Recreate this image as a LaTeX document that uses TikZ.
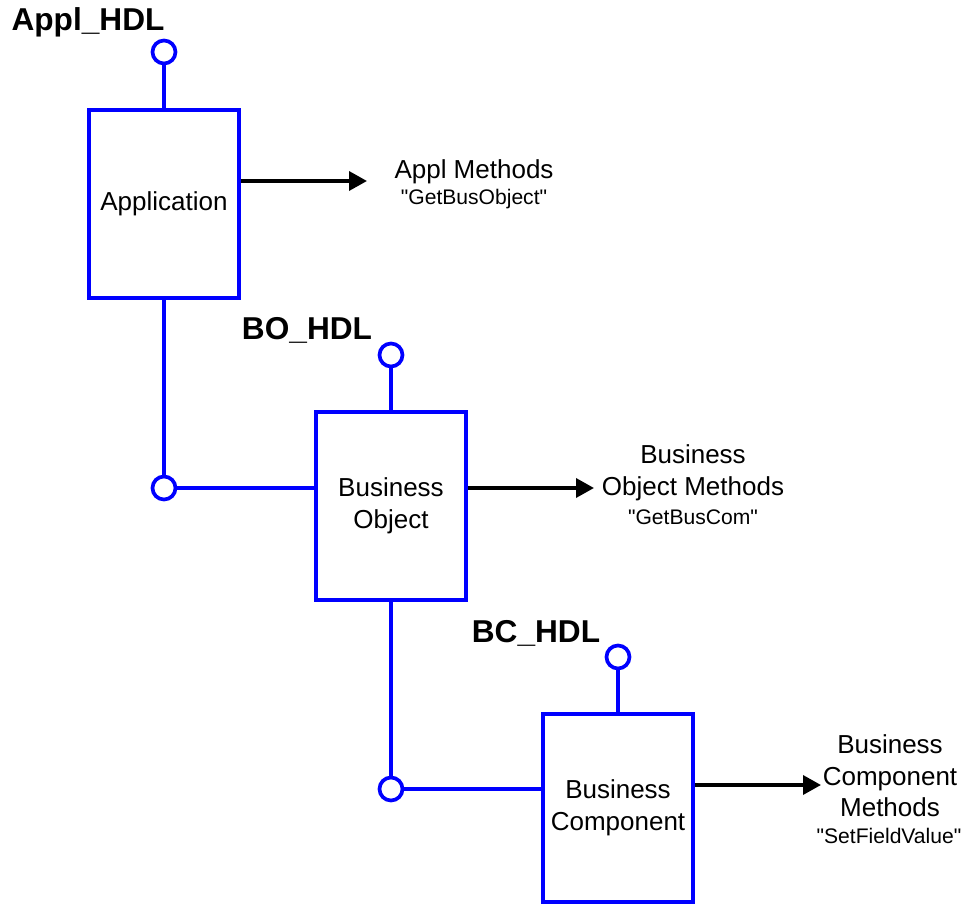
\documentclass[tikz,border=0pt]{standalone}
\usepackage{fontspec}
\setmainfont{Liberation Sans}[Ligatures=TeXOff]
\usetikzlibrary{arrows.meta}
\tikzset{
  obj/.style={draw=blue,line width=2.1pt,minimum width=3cm,minimum height=3.76cm,align=center,font=\fontsize{14.8}{18}\selectfont},
  hdl/.style={draw=blue,line width=2.1pt,circle,inner sep=0pt,minimum size=0.46cm,fill=white},
  wire/.style={blue,line width=2.1pt},
  meth/.style={black,line width=2pt,-{Triangle[length=0.36cm,width=0.38cm]}},
  hdlname/.style={font=\fontsize{18}{20}\selectfont\bfseries},
  mname/.style={align=center,font=\fontsize{14.8}{18}\selectfont},
  mcall/.style={font=\fontsize{12}{14}\selectfont}
}
\begin{document}
\begin{tikzpicture}[x=0.02cm,y=-0.02cm]
    \useasboundingbox(0,0)rectangle(967,905);
    % application
    \node[obj](app)at(164,204){Application};
    \node[hdl](apph)at(164,52){};
    \node[hdlname](applbl)at(88,22){Appl\_HDL};
    \draw[wire](apph)--(app.north);
    \coordinate(appm)at(367,181);
    \draw[meth](app.east|-appm)--(appm);
    \node[mname](appmeth)at(474,172){Appl Methods};
    \node[mcall](appcall)at(474,199){"GetBusObject"};
    % business object
    \node[obj](bo)at(391,506){Business\\Object};
    \node[hdl](boh)at(391,355){};
    \node[hdlname](bolbl)at(307,330){BO\_HDL};
    \node[hdl](boj)at(164,488){};
    \draw[wire](app.south)--(boj);
    \draw[wire](boj)--(boj-|bo.west);
    \draw[wire](boh)--(bo.north);
    \coordinate(bom)at(594,488);
    \draw[meth](bo.east|-bom)--(bom);
    \node[mname](bometh)at(693,473){Business\\Object Methods};
    \node[mcall](bocall)at(693,517){"GetBusCom"};
    % business component
    \node[obj](bc)at(618,808){Business\\Component};
    \node[hdl](bch)at(618,657){};
    \node[hdlname](bclbl)at(536,633){BC\_HDL};
    \node[hdl](bcj)at(391,789){};
    \draw[wire](bo.south)--(bcj);
    \draw[wire](bcj)--(bcj-|bc.west);
    \draw[wire](bch)--(bc.north);
    \coordinate(bcm)at(821,785);
    \draw[meth](bc.east|-bcm)--(bcm);
    \node[mname](bcmeth)at(890,776){Business\\Component\\Methods};
    \node[mcall](bccall)at(889,836){"SetFieldValue"};
\end{tikzpicture}
\end{document}
